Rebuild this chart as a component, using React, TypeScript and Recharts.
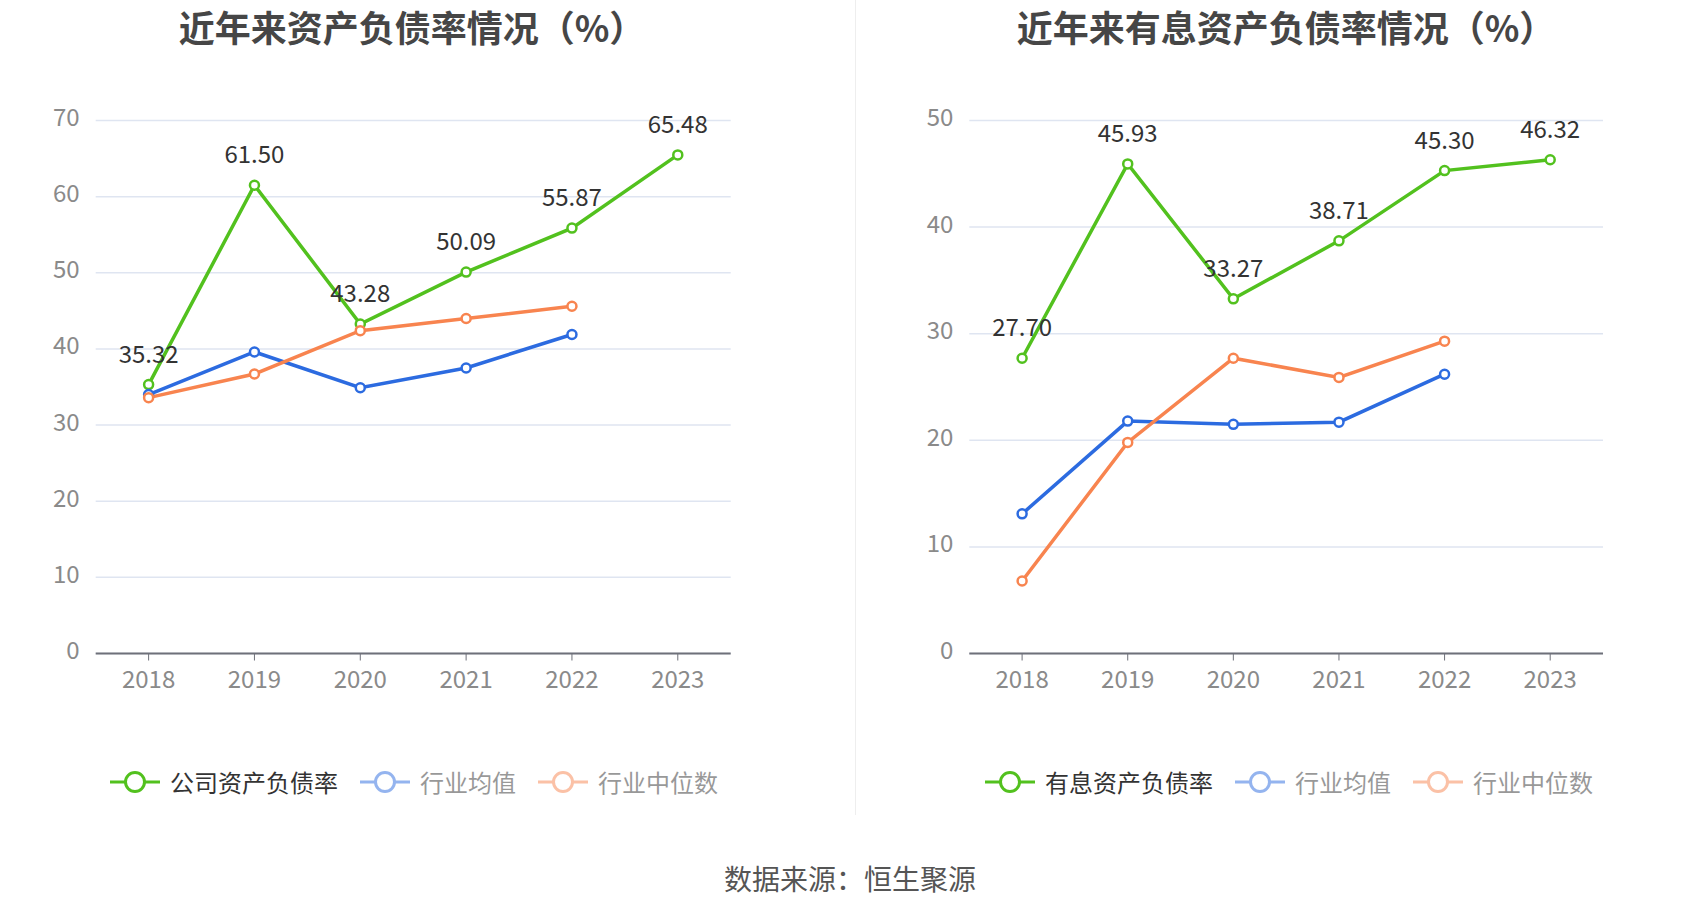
import { LineChart, Line, XAxis, YAxis, CartesianGrid, LabelList } from "recharts";

const years = ["2018", "2019", "2020", "2021", "2022", "2023"];

// 近年来资产负债率情况
const companyDebtRatio = [35.32, 61.5, 43.28, 50.09, 55.87, 65.48];
const industryAvgDebt = [34.0, 39.6, 34.9, 37.5, 41.9, null];
const industryMedianDebt = [33.6, 36.7, 42.4, 44.0, 45.6, null];
const debtTicks = [0, 10, 20, 30, 40, 50, 60, 70];

// 近年来有息资产负债率情况
const interestDebtRatio = [27.7, 45.93, 33.27, 38.71, 45.3, 46.32];
const industryAvgInterest = [13.1, 21.8, 21.5, 21.7, 26.2, null];
const industryMedianInterest = [6.8, 19.8, 27.7, 25.9, 29.3, null];
const interestTicks = [0, 10, 20, 30, 40, 50];

const leftNames = ["公司资产负债率", "行业均值", "行业中位数"];
const rightNames = ["有息资产负债率", "行业均值", "行业中位数"];
const colors = ["#52c11e", "#2c6be0", "#f8844f"];

const FONT = "'Noto Sans CJK SC', 'Noto Sans', sans-serif";

const buildRows = (a: number[], b: (number | null)[], c: (number | null)[]) =>
  years.map((year, i) => ({ year, main: a[i], avg: b[i], median: c[i] }));

const leftData = buildRows(companyDebtRatio, industryAvgDebt, industryMedianDebt);
const rightData = buildRows(interestDebtRatio, industryAvgInterest, industryMedianInterest);

const LegendIcon = ({ color }: { color: string }) => (
  <svg width={50} height={26} style={{ display: "block" }}>
    <line x1={0} y1={13} x2={50} y2={13} stroke={color} strokeWidth={3} />
    <circle cx={25} cy={13} r={9.5} fill="#fff" stroke={color} strokeWidth={3} />
  </svg>
);

const ChartLegend = ({ names, left }: { names: string[]; left: number }) => (
  <div
    style={{
      position: "absolute",
      left,
      top: 768,
      height: 28,
      display: "flex",
      alignItems: "center",
      gap: 22,
      fontFamily: FONT,
      fontSize: 24,
      color: "#333",
    }}
  >
    {names.map((name, i) => (
      <div
        key={name}
        style={{ display: "flex", alignItems: "center", gap: 10, opacity: i === 0 ? 1 : 0.5 }}
      >
        <LegendIcon color={colors[i]} />
        <span style={{ lineHeight: "28px" }}>{name}</span>
      </div>
    ))}
  </div>
);

const RatioChart = ({
  data,
  ticks,
  width,
  yWidth,
  rightGap,
}: {
  data: any[];
  ticks: number[];
  width: number;
  yWidth: number;
  rightGap: number;
}) => {
  const max = ticks[ticks.length - 1];
  const pad = (width - yWidth - rightGap) / 12;
  return (
    <LineChart
      width={width}
      height={700}
      data={data}
      margin={{ top: 120.5, right: rightGap, left: 0, bottom: 6.5 }}
    >
      <CartesianGrid vertical={false} stroke="#dfe5f1" strokeWidth={1.5} />
      <XAxis
        dataKey="year"
        height={40}
        padding={{ left: pad, right: pad }}
        axisLine={{ stroke: "#6e7079", strokeWidth: 2 }}
        tickLine={{ stroke: "#6e7079", strokeWidth: 1 }}
        tickSize={7}
        tickMargin={10}
        tick={{ fill: "#8a8a8a", fontSize: 24, fontFamily: FONT }}
      />
      <YAxis
        width={yWidth}
        domain={[0, max]}
        ticks={ticks}
        axisLine={false}
        tickLine={false}
        tickSize={0}
        tickMargin={16}
        tick={{ fill: "#8a8a8a", fontSize: 24, fontFamily: FONT, dy: -3 }}
      />
      <Line
        dataKey="main"
        stroke={colors[0]}
        strokeWidth={3.5}
        dot={{ r: 4.5, strokeWidth: 2.5, fill: "#fff" }}
        activeDot={false}
        isAnimationActive={false}
      >
        <LabelList
          dataKey="main"
          position="top"
          offset={22}
          formatter={(v: any) => Number(v).toFixed(2)}
          style={{ fill: "#333", fontSize: 24, fontFamily: FONT }}
        />
      </Line>
      <Line
        dataKey="avg"
        stroke={colors[1]}
        strokeWidth={3.5}
        dot={{ r: 4.5, strokeWidth: 2.5, fill: "#fff" }}
        activeDot={false}
        isAnimationActive={false}
      />
      <Line
        dataKey="median"
        stroke={colors[2]}
        strokeWidth={3.5}
        dot={{ r: 4.5, strokeWidth: 2.5, fill: "#fff" }}
        activeDot={false}
        isAnimationActive={false}
      />
    </LineChart>
  );
};

const titleStyle: React.CSSProperties = {
  position: "absolute",
  top: 0,
  height: 52,
  lineHeight: "52px",
  textAlign: "center",
  fontFamily: FONT,
  fontSize: 36,
  fontWeight: 700,
  color: "#464646",
  whiteSpace: "nowrap",
};

export default function App() {
  return (
    <div
      style={{
        position: "absolute",
        left: 0,
        top: 0,
        width: 1700,
        height: 918,
        background: "#fff",
        overflow: "hidden",
      }}
    >
      <div style={{ ...titleStyle, left: 12, width: 800 }}>近年来资产负债率情况（%）</div>
      <div style={{ ...titleStyle, left: 886, width: 800 }}>近年来有息资产负债率情况（%）</div>

      <div style={{ position: "absolute", left: 0, top: 0 }}>
        <RatioChart data={leftData} ticks={debtTicks} width={760} yWidth={95.7} rightGap={29.3} />
      </div>
      <div style={{ position: "absolute", left: 855, top: 0 }}>
        <RatioChart data={rightData} ticks={interestTicks} width={780} yWidth={114.3} rightGap={32} />
      </div>

      <div
        style={{
          position: "absolute",
          left: 855,
          top: 0,
          width: 1,
          height: 815,
          background: "#eeeeee",
        }}
      />

      <ChartLegend names={leftNames} left={110} />
      <ChartLegend names={rightNames} left={985} />

      <div
        style={{
          position: "absolute",
          left: 0,
          width: 1700,
          top: 864,
          lineHeight: "28px",
          textAlign: "center",
          fontFamily: FONT,
          fontSize: 28,
          color: "#555",
        }}
      >
        数据来源：恒生聚源
      </div>
    </div>
  );
}
